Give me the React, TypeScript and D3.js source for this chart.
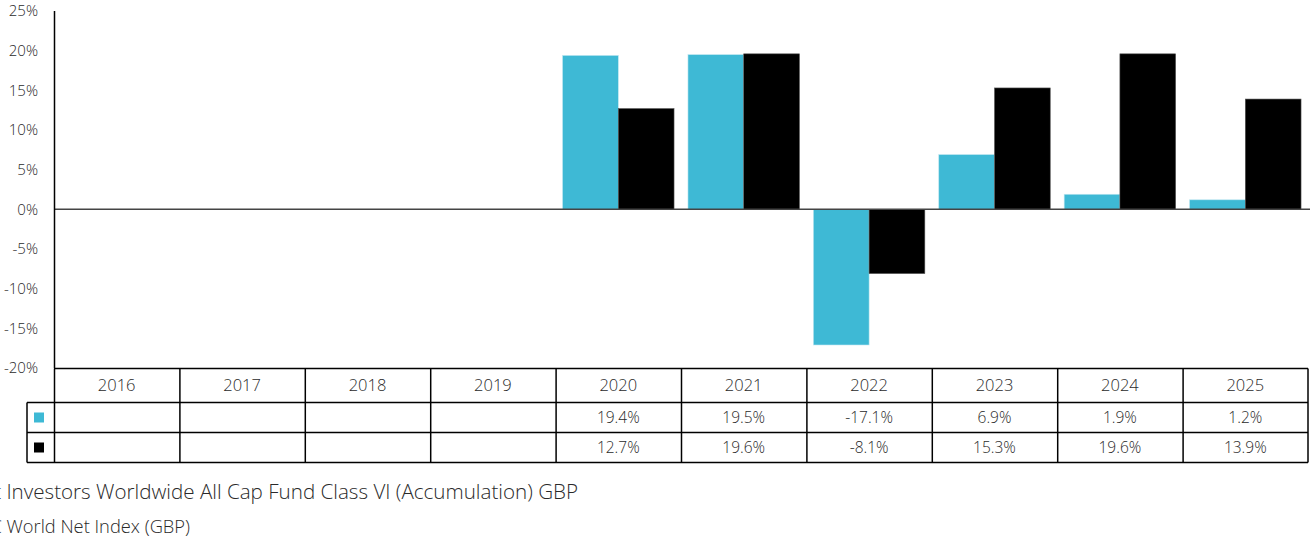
import React from "react";
import * as d3 from "d3";

const years = ["2016", "2017", "2018", "2019", "2020", "2021", "2022", "2023", "2024", "2025"];
const fundValues: (number | null)[] = [null, null, null, null, 19.4, 19.5, -17.1, 6.9, 1.9, 1.2];
const indexValues: (number | null)[] = [null, null, null, null, 12.7, 19.6, -8.1, 15.3, 19.6, 13.9];
const yTicks = [-20, -15, -10, -5, 0, 5, 10, 15, 20, 25];
const seriesNames = [
  "Stewart Investors Worldwide All Cap Fund Class VI (Accumulation) GBP",
  "MSCI AC World Net Index (GBP)",
];
const seriesColors = ["#3eb9d5", "#000000"];

const W = 1310;
const H = 539;
const FONT = "'Open Sans', 'DejaVu Sans', sans-serif";

export default function App() {
  const x = d3.scaleBand<string>().domain(years).range([54, 1308]).padding(0);
  const inner = d3
    .scaleBand<number>()
    .domain([0, 1])
    .range([0, x.bandwidth()])
    .paddingInner(0)
    .paddingOuter(0.125);
  const y = d3.scaleLinear().domain([-20, 25]).range([368, 11]);
  const series = [fundValues, indexValues];

  const rowTops = [368.5, 402.5, 432.5, 462.5];
  const textColor = "#2a2a2a";

  return (
    <svg
      width={W}
      height={H}
      style={{ position: "absolute", left: 0, top: 0, background: "#fff" }}
      fontFamily={FONT}
    >
      {/* y tick labels */}
      {yTicks.map((t) => (
        <text
          key={t}
          x={38}
          y={y(t)}
          dy="0.35em"
          textAnchor="end"
          fontSize={15}
          fontWeight={300}
          fill={textColor}
        >
          {t}%
        </text>
      ))}

      {/* bars */}
      {series.map((vals, si) =>
        vals.map((v, i) => {
          if (v === null) return null;
          const bx = (x(years[i]) as number) + (inner(si) as number);
          const y0 = y(0);
          const y1 = y(v);
          return (
            <rect
              key={`${si}-${i}`}
              x={bx}
              y={Math.min(y0, y1)}
              width={inner.bandwidth()}
              height={Math.abs(y1 - y0)}
              fill={seriesColors[si]}
              stroke={si === 1 ? "#555" : "#bfe6f0"}
              strokeWidth={0.6}
            />
          );
        })
      )}

      {/* zero line */}
      <line x1={54} x2={1310} y1={y(0)} y2={y(0)} stroke="#444" strokeWidth={1.5} />
      {/* y axis */}
      <line x1={54.5} x2={54.5} y1={11} y2={368} stroke="#000" strokeWidth={1.5} />

      {/* table horizontal lines */}
      <line x1={54} x2={1308} y1={rowTops[0]} y2={rowTops[0]} stroke="#000" strokeWidth={1.5} />
      {rowTops.slice(1).map((ry, k) => (
        <line key={k} x1={27} x2={1308} y1={ry} y2={ry} stroke="#000" strokeWidth={1.5} />
      ))}
      {/* vertical lines */}
      <line x1={27} x2={27} y1={rowTops[1]} y2={rowTops[3]} stroke="#000" strokeWidth={1.5} />
      {years.map((yr) => (
        <line
          key={yr}
          x1={(x(yr) as number) + 0.5}
          x2={(x(yr) as number) + 0.5}
          y1={rowTops[0]}
          y2={rowTops[3]}
          stroke="#000"
          strokeWidth={1.5}
        />
      ))}
      <line x1={1308} x2={1308} y1={rowTops[0]} y2={rowTops[3]} stroke="#000" strokeWidth={1.5} />

      {/* header years */}
      {years.map((yr) => (
        <text
          key={yr}
          x={(x(yr) as number) + x.bandwidth() / 2}
          y={(rowTops[0] + rowTops[1]) / 2}
          dy="0.35em"
          textAnchor="middle"
          fontSize={16.5}
          fontWeight={300}
          fill={textColor}
        >
          {yr}
        </text>
      ))}

      {/* table values */}
      {series.map((vals, si) =>
        vals.map((v, i) =>
          v === null ? null : (
            <text
              key={`t-${si}-${i}`}
              x={(x(years[i]) as number) + x.bandwidth() / 2}
              y={(rowTops[si + 1] + rowTops[si + 2]) / 2}
              dy="0.35em"
              textAnchor="middle"
              fontSize={15.5}
              fontWeight={300}
              fill={textColor}
            >
              {v.toFixed(1)}%
            </text>
          )
        )
      )}

      {/* legend squares in table */}
      {seriesColors.map((c, si) => (
        <rect
          key={c}
          x={34}
          y={(rowTops[si + 1] + rowTops[si + 2]) / 2 - 5}
          width={10}
          height={10}
          fill={c}
        />
      ))}

      {/* legend text (clipped at left as in the source) */}
      <text x={578} y={499} textAnchor="end" fontSize={20.6} fontWeight={300} fill={textColor}>
        {seriesNames[0]}
      </text>
      <text x={190} y={533} textAnchor="end" fontSize={18.3} fontWeight={300} fill={textColor}>
        {seriesNames[1]}
      </text>
    </svg>
  );
}
